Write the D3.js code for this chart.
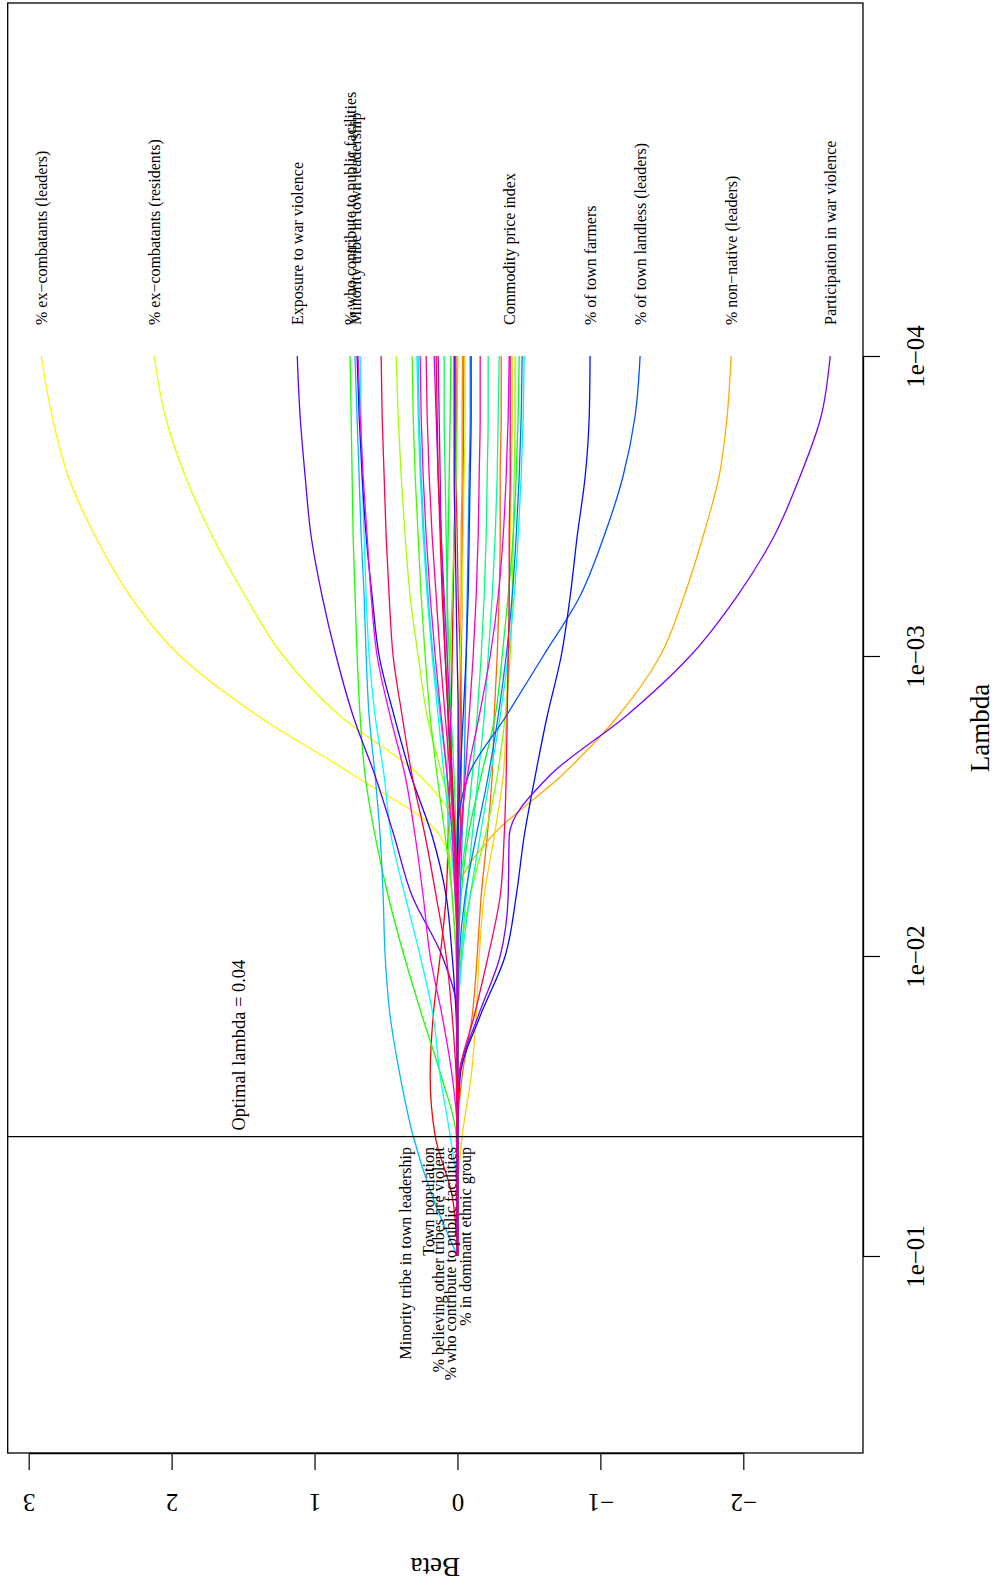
<!DOCTYPE html>
<html>
<head>
<meta charset="utf-8">
<script src="https://cdn.jsdelivr.net/npm/d3@7"></script>
<style>
  body { margin: 0; background: #fff; }
  text { font-family: "Liberation Serif", "Times New Roman", serif; fill: #000; }
</style>
</head>
<body>
<div id="chart"></div>
<script>
// lambda grid (0.2 decade steps from 1e-4 to 1e-1)
const lambdas = [1e-4, 1.585e-4, 2.512e-4, 3.981e-4, 6.31e-4, 1e-3, 1.585e-3, 2.512e-3,
                 3.981e-3, 6.31e-3, 1e-2, 1.585e-2, 2.512e-2, 3.981e-2, 6.31e-2, 1e-1];

// coefficient paths, one row per variable, ordered as the rainbow palette
const betaPaths = [
  [0.016,0.016,0.016,0.023,0.030,0.037,0.044,0.051,0.065,0.079,0.121,0.170,0.191,0.156,0.037,0],   // Town population
  [0.011,0.009,0.009,0.002,-0.005,-0.019,-0.026,-0.026,-0.019,-0.005,0,0,0,0,0,0],
  [-0.045,-0.043,-0.040,-0.036,-0.033,-0.026,-0.019,-0.012,-0.005,0,0,0,0,0,0,0],
  [-0.306,-0.306,-0.299,-0.299,-0.292,-0.278,-0.257,-0.243,-0.208,-0.166,-0.138,-0.103,-0.033,0,0,0],
  [-0.035,-0.033,-0.033,-0.026,-0.026,-0.019,-0.012,-0.005,0,0,0,0,0,0,0,0],
  [-1.915,-1.887,-1.831,-1.719,-1.586,-1.418,-1.124,-0.725,-0.242,0,0,0,0,0,0,0],                // % non-native (leaders)
  [-0.383,-0.383,-0.376,-0.369,-0.362,-0.355,-0.341,-0.320,-0.257,-0.187,-0.152,-0.131,-0.096,-0.033,0,0], // % in dominant ethnic group
  [2.913,2.836,2.724,2.535,2.290,1.940,1.395,0.716,0.121,0,0,0,0,0,0,0],                          // % ex-combatants (leaders)
  [2.122,2.045,1.905,1.716,1.485,1.219,0.821,0.261,0,0,0,0,0,0,0,0],                              // % ex-combatants (residents)
  [-0.054,-0.054,-0.047,-0.040,-0.033,-0.019,-0.005,0,0,0,0,0,0,0,0,0],
  [0.429,0.415,0.394,0.366,0.331,0.275,0.212,0.107,0.009,0,0,0,0,0,0,0],
  [-0.403,-0.403,-0.397,-0.390,-0.383,-0.369,-0.334,-0.278,-0.194,-0.089,-0.019,0,0,0,0,0],
  [-0.003,0.002,0.009,0.023,0.037,0.051,0.065,0.072,0.065,0.037,0.009,0,0,0,0,0],
  [0.317,0.310,0.296,0.275,0.254,0.226,0.191,0.142,0.086,0.037,0.009,0,0,0,0,0],
  [0.751,0.744,0.737,0.730,0.716,0.702,0.681,0.646,0.576,0.485,0.373,0.247,0.114,0.009,0,0],      // % who contribute to public facilities
  [0.046,0.051,0.058,0.065,0.072,0.072,0.065,0.051,0.030,0.009,0,0,0,0,0,0],
  [-0.432,-0.425,-0.411,-0.390,-0.355,-0.313,-0.264,-0.166,-0.075,-0.026,-0.005,0,0,0,0,0],
  [0.093,0.093,0.086,0.079,0.072,0.058,0.044,0.023,0.009,0,0,0,0,0,0,0],
  [-0.215,-0.215,-0.208,-0.201,-0.187,-0.166,-0.138,-0.103,-0.061,-0.012,0,0,0,0,0,0],
  [-0.292,-0.285,-0.278,-0.264,-0.243,-0.215,-0.187,-0.145,-0.103,-0.061,-0.026,-0.005,0,0,0,0],
  [-0.467,-0.460,-0.446,-0.425,-0.397,-0.355,-0.299,-0.229,-0.159,-0.089,-0.033,-0.005,0,0,0,0],
  [0.284,0.275,0.261,0.240,0.212,0.177,0.135,0.093,0.051,0.016,0,0,0,0,0,0],
  [0.681,0.674,0.667,0.653,0.639,0.618,0.576,0.513,0.464,0.366,0.261,0.170,0.121,0.051,0,0],      // % believing other tribes are violent
  [0.275,0.268,0.254,0.233,0.205,0.170,0.121,0.072,0.037,0.016,0,0,0,0,0,0],
  [0.717,0.703,0.688,0.674,0.653,0.639,0.618,0.576,0.541,0.520,0.506,0.471,0.401,0.310,0.177,0],  // Minority tribe in town leadership
  [-0.089,-0.089,-0.082,-0.075,-0.068,-0.061,-0.054,-0.047,-0.033,-0.019,-0.005,0,0,0,0,0],
  [-0.453,-0.446,-0.432,-0.411,-0.383,-0.341,-0.285,-0.215,-0.131,-0.054,-0.012,0,0,0,0,0],
  [-1.278,-1.243,-1.159,-1.026,-0.858,-0.600,-0.341,-0.075,0,0,0,0,0,0,0,0],                      // % of town landless (leaders)
  [-0.096,-0.096,-0.089,-0.082,-0.075,-0.061,-0.040,-0.019,-0.005,0,0,0,0,0,0,0],
  [-0.928,-0.922,-0.894,-0.838,-0.789,-0.726,-0.628,-0.544,-0.467,-0.411,-0.334,-0.159,-0.019,0,0,0], // % of town farmers
  [0.702,0.688,0.667,0.639,0.597,0.548,0.443,0.324,0.177,0.079,0.037,0.009,0,0,0,0],
  [0.023,0.023,0.023,0.016,0.009,0.002,-0.005,-0.005,0,0,0,0,0,0,0,0],
  [1.121,1.101,1.066,1.024,0.947,0.849,0.730,0.576,0.443,0.317,0.107,0,0,0,0,0],                  // Exposure to war violence
  [-2.608,-2.545,-2.398,-2.216,-1.957,-1.628,-1.180,-0.642,-0.362,-0.355,-0.299,-0.145,-0.012,0,0,0], // Participation in war violence
  [0.135,0.128,0.121,0.114,0.100,0.086,0.065,0.044,0.023,0.009,0,0,0,0,0,0],
  [0.163,0.149,0.135,0.114,0.093,0.072,0.051,0.037,0.023,0.009,0,0,0,0,0,0],
  [-0.362,-0.355,-0.341,-0.320,-0.285,-0.229,-0.152,-0.068,-0.019,0,0,0,0,0,0,0],                 // Commodity price index
  [0.695,0.681,0.660,0.632,0.604,0.562,0.471,0.366,0.296,0.240,0.191,0.107,0.037,0,0,0],
  [0.261,0.254,0.240,0.219,0.191,0.156,0.114,0.072,0.037,0.016,0,0,0,0,0,0],
  [-0.159,-0.159,-0.152,-0.145,-0.131,-0.110,-0.082,-0.054,-0.026,-0.005,0,0,0,0,0,0],
  [0.219,0.212,0.198,0.177,0.149,0.121,0.086,0.051,0.023,0.009,0,0,0,0,0,0],
  [-0.369,-0.369,-0.369,-0.362,-0.362,-0.355,-0.348,-0.341,-0.327,-0.299,-0.215,-0.117,-0.012,0,0,0],
  [0.534,0.527,0.513,0.499,0.478,0.450,0.387,0.317,0.226,0.149,0.079,0.037,0.009,0,0,0],
  [0.149,0.142,0.135,0.121,0.107,0.086,0.065,0.037,0.016,0,0,0,0,0,0,0]
];

// labels at the small-lambda end (series index -> name)
const topLabelSeries = [7, 8, 32, 14, 24, 36, 29, 27, 5, 33];
const topLabelNames = ['% ex\u2212combatants (leaders)', '% ex\u2212combatants (residents)', 'Exposure to war violence',
  '% who contribute to public facilities', 'Minority tribe in town leadership', 'Commodity price index',
  '% of town farmers', '% of town landless (leaders)', '% non\u2212native (leaders)', 'Participation in war violence'];

// labels at the optimal lambda
const optLabelNames = ['Minority tribe in town leadership', 'Town population', '% believing other tribes are violent',
  '% who contribute to public facilities', '% in dominant ethnic group'];
const optLabelBeta = [0.366, 0.205, 0.135, 0.051, -0.054];

const optimalLambda = 0.04;
const betaTicks = [3, 2, 1, 0, -1, -2];
const lambdaTicks = [1e-4, 1e-3, 1e-2, 1e-1];

const W = 997, H = 1587;
const box = { left: 7.7, right: 863, top: 3, bottom: 1453 };

const svg = d3.select('#chart').append('svg')
    .attr('width', W)
    .attr('height', H)
    .style('background', '#fff');

const x = d3.scaleLinear().domain([3, -2]).range([28.7, 743.3]);
const y = d3.scaleLog().domain([1e-4, 1e-1]).range([356, 1256]);

const n = betaPaths.length;
const colour = i => d3.hsl(i * 360 / n, 1, 0.5).formatHex();

const line = d3.line()
    .x(d => x(d[1]))
    .y(d => y(d[0]))
    .curve(d3.curveMonotoneY);

svg.append('g').selectAll('path')
    .data(betaPaths)
    .join('path')
    .attr('d', b => line(b.map((v, j) => [lambdas[j], v])))
    .attr('fill', 'none')
    .attr('stroke', (b, i) => colour(i))
    .attr('stroke-width', 1.3);

// plot frame
svg.append('rect')
    .attr('x', box.left).attr('y', box.top)
    .attr('width', box.right - box.left).attr('height', box.bottom - box.top)
    .attr('fill', 'none').attr('stroke', '#000').attr('stroke-width', 1.3);

// optimal lambda line
svg.append('line')
    .attr('x1', box.left).attr('x2', box.right)
    .attr('y1', y(optimalLambda)).attr('y2', y(optimalLambda))
    .attr('stroke', '#000').attr('stroke-width', 1.2);

svg.append('text')
    .attr('transform', `translate(${x(1.53)},${y(optimalLambda) - 6}) rotate(-90)`)
    .attr('dy', '0.35em')
    .style('font-size', '18.4px')
    .text('Optimal lambda = 0.04');

// beta axis (bottom, labels upside down)
const xAxis = svg.append('g')
    .attr('transform', `translate(0,${box.bottom})`)
    .call(d3.axisBottom(x).tickValues(betaTicks).tickSize(17).tickSizeOuter(0)
        .tickFormat(d => d < 0 ? '\u2212' + (-d) : d));
xAxis.select('.domain').attr('stroke-width', 1.3);
xAxis.selectAll('.tick line').attr('stroke-width', 1.2);
xAxis.selectAll('.tick text')
    .attr('y', null).attr('dy', '0.35em')
    .attr('transform', 'translate(0,50) rotate(180)')
    .attr('text-anchor', 'middle')
    .style('font-size', '25px')
    .style('font-family', '"Liberation Serif", serif');

// lambda axis (right, labels reading upward)
const yAxis = svg.append('g')
    .attr('transform', `translate(${box.right},0)`)
    .call(d3.axisRight(y).tickValues(lambdaTicks).tickSize(17).tickSizeOuter(0)
        .tickFormat(d => '1e\u2212' + String(Math.round(-Math.log10(d))).padStart(2, '0')));
yAxis.select('.domain').attr('stroke-width', 1.3);
yAxis.selectAll('.tick line').attr('stroke-width', 1.2);
yAxis.selectAll('.tick text')
    .attr('x', null).attr('dy', '0.35em')
    .attr('transform', 'translate(52,0) rotate(-90)')
    .attr('text-anchor', 'middle')
    .style('font-size', '25px')
    .style('font-family', '"Liberation Serif", serif');

// axis titles
svg.append('text')
    .attr('transform', `translate(${(box.left + box.right) / 2},1567) rotate(180)`)
    .attr('dy', '0.35em')
    .attr('text-anchor', 'middle')
    .style('font-size', '27px')
    .text('Beta');

svg.append('text')
    .attr('transform', `translate(980,${(box.top + box.bottom) / 2}) rotate(-90)`)
    .attr('dy', '0.35em')
    .attr('text-anchor', 'middle')
    .style('font-size', '27px')
    .text('Lambda');

// variable labels at small lambda
svg.append('g').selectAll('text')
    .data(topLabelSeries)
    .join('text')
    .attr('transform', s => `translate(${x(betaPaths[s][0])},325) rotate(-90)`)
    .attr('dy', '0.35em')
    .style('font-size', '16px')
    .text((s, i) => topLabelNames[i]);

// variable labels at the optimal lambda
svg.append('g').selectAll('text')
    .data(optLabelNames)
    .join('text')
    .attr('transform', (d, i) => `translate(${x(optLabelBeta[i])},1147) rotate(-90)`)
    .attr('dy', '0.35em')
    .attr('text-anchor', 'end')
    .style('font-size', '16px')
    .text(d => d);
</script>
</body>
</html>
